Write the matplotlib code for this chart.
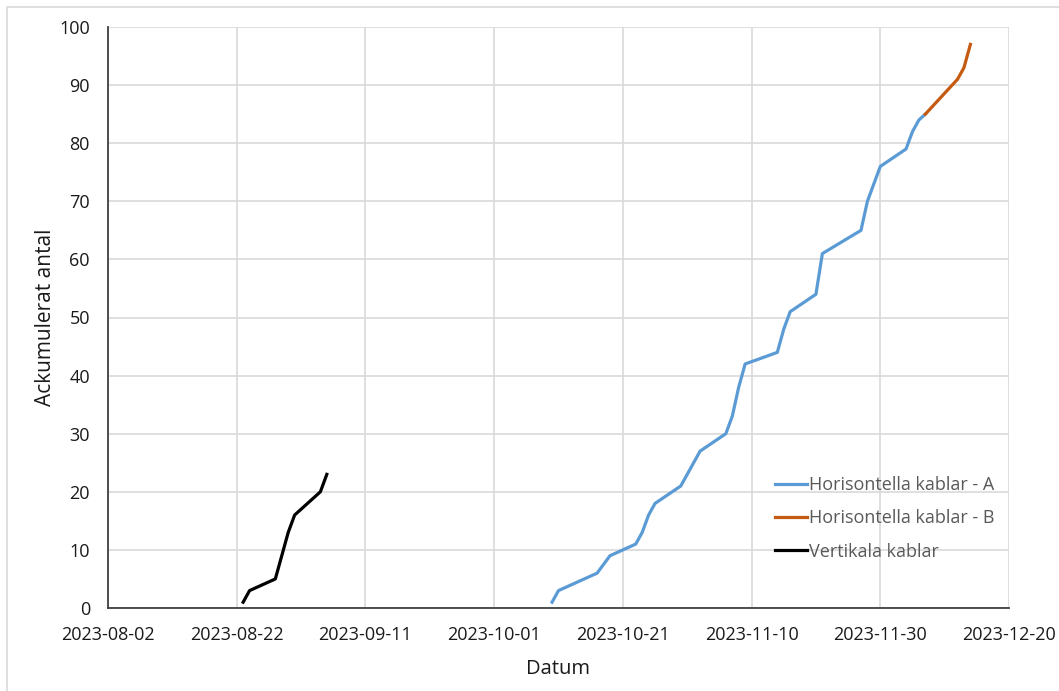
import matplotlib
matplotlib.use("Agg")
import matplotlib.pyplot as plt
from matplotlib.patches import Rectangle
import pandas as pd

plt.rcParams['font.family'] = ['Open Sans', 'DejaVu Sans']

# --- data ---
vert_dates = ["2023-08-23", "2023-08-24", "2023-08-28", "2023-08-30", "2023-08-31",
              "2023-09-04", "2023-09-05"]
vert_vals = [1, 3, 5, 13, 16, 20, 23]

horA_dates = ["2023-10-10", "2023-10-11", "2023-10-17", "2023-10-19", "2023-10-23",
              "2023-10-24", "2023-10-25", "2023-10-26", "2023-10-30", "2023-11-02",
              "2023-11-06", "2023-11-07", "2023-11-08", "2023-11-09", "2023-11-14",
              "2023-11-15", "2023-11-16", "2023-11-20", "2023-11-21", "2023-11-27",
              "2023-11-28", "2023-11-30", "2023-12-04", "2023-12-05", "2023-12-06",
              "2023-12-07"]
horA_vals = [1, 3, 6, 9, 11, 13, 16, 18, 21, 27, 30, 33, 38, 42, 44, 48, 51, 54, 61,
             65, 70, 76, 79, 82, 84, 85]

horB_dates = ["2023-12-07", "2023-12-12", "2023-12-13", "2023-12-14"]
horB_vals = [85, 91, 93, 97]

x_ticks = ["2023-08-02", "2023-08-22", "2023-09-11", "2023-10-01", "2023-10-21",
           "2023-11-10", "2023-11-30", "2023-12-20"]
y_ticks = [0, 10, 20, 30, 40, 50, 60, 70, 80, 90, 100]

labels = ["Horisontella kablar - A", "Horisontella kablar - B", "Vertikala kablar"]
colors = ["#5B9BD5", "#C55A11", "#000000"]

# --- figure ---
W, H = 1059, 691
fig = plt.figure(figsize=(W / 100, H / 100), dpi=100)
ax = fig.add_axes([108 / W, 1 - 608 / H, (1009 - 108) / W, (608 - 27) / H])

fig.patches.append(Rectangle((7 / W, -0.1), 1.2, 1 - 7 / H + 0.1,
                             transform=fig.transFigure, fill=False,
                             edgecolor="#D9D9D9", linewidth=1.2, zorder=0))

ax.plot(pd.to_datetime(horA_dates), horA_vals, color=colors[0], lw=2.3,
        label=labels[0], solid_joinstyle="round")
ax.plot(pd.to_datetime(horB_dates), horB_vals, color=colors[1], lw=2.3,
        label=labels[1], solid_joinstyle="round")
ax.plot(pd.to_datetime(vert_dates), vert_vals, color=colors[2], lw=2.3,
        label=labels[2], solid_joinstyle="round")

xt = pd.to_datetime(x_ticks)
ax.set_xlim(xt[0], xt[-1])
ax.set_ylim(y_ticks[0], y_ticks[-1])
ax.set_xticks(xt)
ax.set_xticklabels(x_ticks)
ax.set_yticks(y_ticks)

ax.grid(True, color="#D9D9D9", linewidth=1.2)
ax.set_axisbelow(True)
for s in ["top", "right"]:
    ax.spines[s].set_visible(False)
for s in ["left", "bottom"]:
    ax.spines[s].set_color("#404040")
    ax.spines[s].set_linewidth(1.3)

ax.tick_params(axis="x", length=0, pad=13, labelsize=13, labelcolor="#1a1a1a")
ax.tick_params(axis="y", length=0, pad=13, labelsize=13, labelcolor="#1a1a1a")

ax.set_xlabel("Datum", fontsize=14.5, color="#1a1a1a", labelpad=11)
ax.set_ylabel("Ackumulerat antal", fontsize=15, color="#1a1a1a", labelpad=2)

leg = ax.legend(loc="upper left", bbox_to_anchor=(775 / W, 1 - 476 / H),
                bbox_transform=fig.transFigure, frameon=False, fontsize=13,
                handlelength=1.75, handletextpad=0.15, labelspacing=0.85,
                borderaxespad=0, borderpad=0)
for t in leg.get_texts():
    t.set_color("#595959")

fig.savefig("out.png", dpi=100, facecolor="white")
